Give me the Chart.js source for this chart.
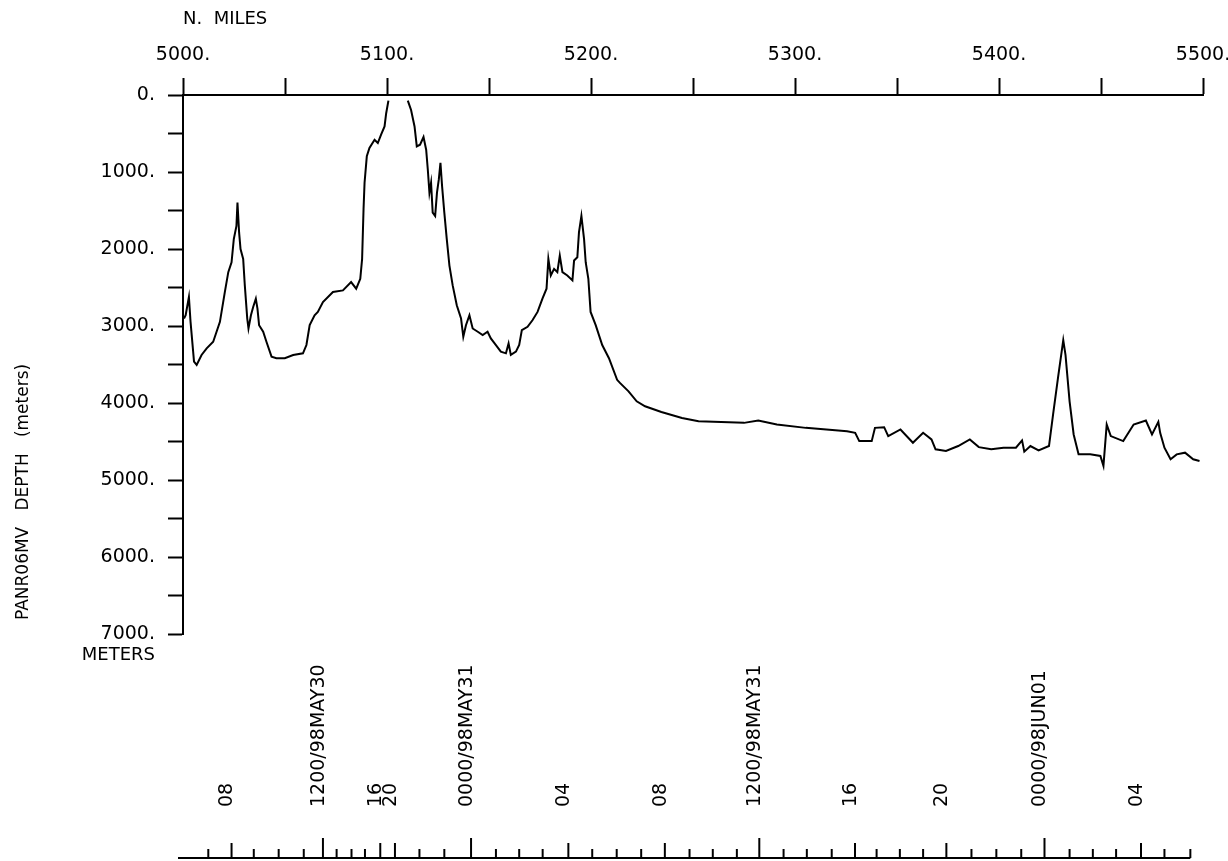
<!DOCTYPE html>
<html>
<head>
<meta charset="utf-8">
<script src="https://cdn.jsdelivr.net/npm/chart.js@4/dist/chart.umd.min.js"></script>
<style>
    body { margin: 0; background: #fff; }
    canvas { display: block; }
</style>
</head>
<body>
<canvas id="perfilChart" width="1228" height="861"></canvas>
<script>
// distance along track (nautical miles) and depth (meters)
const milhas = [
    5000.5, 5001.3, 5002.9, 5003.7, 5005.4, 5006.7, 5009.1, 5011.6, 5014.8, 5018.1,
    5020.5, 5022.2, 5023.8, 5024.9, 5026.2, 5026.7, 5027.5, 5028.2, 5029.5, 5030.3,
    5031.5, 5032.1, 5033.3, 5034.4, 5035.7, 5036.5, 5037.3, 5039.3, 5040.9, 5043.4,
    5045.8, 5049.9, 5054.0, 5058.8, 5060.5, 5062.1, 5064.5, 5066.1, 5068.6, 5073.5,
    5078.4, 5082.4, 5084.9, 5086.9, 5087.8, 5088.5, 5089.0, 5090.1, 5091.4, 5093.9,
    5095.5, 5097.1, 5098.8, 5099.6, 5100.7, 5105.0, 5110.2, 5111.8, 5113.5, 5114.6,
    5116.2, 5117.9, 5119.2, 5120.0, 5120.8, 5121.6, 5122.4, 5123.6, 5124.5, 5125.4,
    5126.2, 5127.0, 5128.1, 5129.3, 5130.6, 5132.2, 5134.2, 5136.3, 5137.4, 5138.7,
    5140.4, 5142.0, 5144.5, 5146.9, 5149.3, 5150.9, 5153.4, 5155.8, 5158.3, 5159.6,
    5160.7, 5163.2, 5164.8, 5166.1, 5168.9, 5171.3, 5173.8, 5176.2, 5178.2, 5179.1,
    5180.3, 5181.9, 5183.5, 5184.7, 5186.0, 5188.4, 5190.9, 5191.7, 5193.3, 5194.1,
    5195.3, 5196.6, 5197.4, 5198.7, 5199.8, 5202.3, 5205.5, 5208.8, 5212.8, 5214.3,
    5218.4, 5222.4, 5226.5, 5234.5, 5244.6, 5252.7, 5275.0, 5282.0, 5291.1, 5305.3,
    5315.4, 5325.5, 5329.5, 5331.5, 5337.6, 5339.2, 5343.7, 5345.7, 5351.7, 5357.8,
    5362.8, 5366.9, 5368.9, 5374.0, 5380.0, 5385.7, 5390.1, 5396.2, 5402.2, 5408.3,
    5411.3, 5412.4, 5415.4, 5419.4, 5424.5, 5426.5, 5428.9, 5431.5, 5432.6, 5434.6,
    5436.6, 5439.0, 5444.7, 5449.7, 5451.2, 5452.8, 5454.8, 5460.9, 5466.0, 5472.0,
    5475.0, 5478.1, 5479.0, 5481.1, 5484.1, 5487.1, 5491.2, 5495.2, 5498.3
];
const profundidade = [
    2903, 2860, 2624, 2946, 3462, 3505, 3376, 3290, 3204, 2946,
    2559, 2301, 2172, 1871, 1699, 1398, 1785, 2000, 2129, 2473,
    2903, 3032, 2860, 2753, 2645, 2774, 2989, 3075, 3204, 3398,
    3419, 3419, 3376, 3355, 3247, 2989, 2860, 2817, 2688, 2559,
    2538, 2430, 2516, 2387, 2129, 1484, 1140, 796, 688, 581,
    624, 516, 409, 237, 73, null, 73, 194, 409, 667,
    645, 546, 710, 968, 1269, 1140, 1527, 1570, 1269, 1097,
    882, 1183, 1527, 1871, 2215, 2473, 2731, 2903, 3140, 2989,
    2860, 3032, 3075, 3118, 3075, 3161, 3247, 3333, 3355, 3226,
    3376, 3333, 3247, 3054, 3011, 2925, 2817, 2645, 2516, 2129,
    2344, 2258, 2301, 2086, 2301, 2344, 2408, 2150, 2107, 1785,
    1570, 1871, 2172, 2387, 2817, 2989, 3247, 3419, 3699, 3742,
    3849, 3978, 4043, 4116, 4194, 4237, 4258, 4228, 4280, 4323,
    4344, 4366, 4387, 4495, 4495, 4323, 4314, 4430, 4344, 4516,
    4387, 4473, 4602, 4624, 4559, 4473, 4573, 4602, 4581, 4581,
    4486, 4632, 4559, 4615, 4559, 4151, 3677, 3183, 3376, 3978,
    4409, 4667, 4667, 4688, 4817, 4280, 4430, 4495, 4280, 4228,
    4409, 4245, 4387, 4581, 4731, 4667, 4645, 4731, 4753
];

// hour marks of the ship's clock, placed at the distance run at that hour
const horaMilhas = [
    5012.4, 5023.8, 5034.7, 5046.9, 5059.2, 5068.6, 5075.3, 5082.6, 5089.2, 5096.7,
    5103.9, 5115.9, 5128.1, 5141.2, 5153.4, 5164.8, 5176.3, 5188.9, 5200.6, 5212.6,
    5224.6, 5236.2, 5248.3, 5259.7, 5271.5, 5282.5, 5294.4, 5305.8, 5318.0, 5329.4,
    5340.0, 5351.4, 5362.8, 5374.2, 5386.5, 5398.7, 5410.9, 5422.3, 5434.6, 5446.0,
    5457.4, 5469.6, 5481.1, 5493.8
];
const horas = [
    7, 8, 9, 10, 11, 12, 13, 14, 15, 16,
    20, 21, 22, 0, 1, 2, 3, 4, 5, 6,
    7, 8, 9, 10, 11, 12, 13, 14, 15, 16,
    17, 18, 19, 20, 21, 22, 23, 0, 1, 2,
    3, 4, 5, 6
];
const horaRotulos = [
    '', '08', '', '', '', '1200/98MAY30', '', '', '', '16',
    '20', '', '', '0000/98MAY31', '', '', '', '04', '', '',
    '', '08', '', '', '', '1200/98MAY31', '', '', '', '16',
    '', '', '', '20', '', '', '', '0000/98JUN01', '', '',
    '', '04', '', ''
];

const FONTE = 'DejaVu Sans';
const TITULO_Y = 'PANR06MV   DEPTH   (meters)';

// bottom time axis, depth title and METERS note, drawn through the x and y scales
const eixoTempo = {
    id: 'eixoTempo',
    afterDraw(chart) {
        const ctx = chart.ctx;
        const x = chart.scales.x;
        const y = chart.scales.y;
        const base = chart.height - 3;

        ctx.save();
        ctx.strokeStyle = '#000';
        ctx.fillStyle = '#000';
        ctx.lineWidth = 2;

        ctx.beginPath();
        ctx.moveTo(x.left - 5, base);
        ctx.lineTo(x.getPixelForValue(horaMilhas[horaMilhas.length - 1]), base);
        ctx.stroke();

        ctx.font = '19px "' + FONTE + '"';
        horaMilhas.forEach((m, i) => {
            const px = x.getPixelForValue(m);
            const h = horas[i];
            const len = h % 12 === 0 ? 20 : (h % 4 === 0 ? 15 : 9);
            ctx.beginPath();
            ctx.moveTo(px, base);
            ctx.lineTo(px, base - len);
            ctx.stroke();

            if (horaRotulos[i]) {
                ctx.save();
                ctx.translate(px - 4, base - 51);
                ctx.rotate(-Math.PI / 2);
                ctx.textAlign = 'left';
                ctx.textBaseline = 'middle';
                ctx.fillText(horaRotulos[i], 0, 0);
                ctx.restore();
            }
        });

        // depth title, reading upward from near the 7000 m end
        ctx.save();
        ctx.font = '17px "' + FONTE + '"';
        ctx.translate(24, y.getPixelForValue(7000) - 14);
        ctx.rotate(-Math.PI / 2);
        ctx.textAlign = 'left';
        ctx.textBaseline = 'middle';
        ctx.fillText(TITULO_Y, 0, 0);
        ctx.restore();

        ctx.font = '18px "' + FONTE + '"';
        ctx.textAlign = 'right';
        ctx.textBaseline = 'middle';
        ctx.fillText('METERS', y.right - 28, y.getPixelForValue(7000) + 21);
        ctx.restore();
    }
};

function desenharPerfil() {
    const pontos = milhas.map((m, i) => ({ x: m, y: profundidade[i] }));

    new Chart(document.getElementById('perfilChart'), {
        type: 'line',
        data: {
            datasets: [{
                label: 'PANR06MV',
                data: pontos,
                borderColor: '#000',
                borderWidth: 2,
                pointRadius: 0,
                tension: 0,
                spanGaps: false
            }]
        },
        options: {
            responsive: false,
            animation: false,
            layout: { padding: { left: 0, top: 0, right: 25, bottom: 227 } },
            plugins: {
                legend: { display: false },
                tooltip: { enabled: false }
            },
            scales: {
                x: {
                    type: 'linear',
                    position: 'top',
                    min: 5000,
                    max: 5500,
                    afterFit(scale) {
                        scale.height = 95;
                        scale.paddingLeft = 0;
                        scale.paddingRight = 0;
                    },
                    border: { color: '#000', width: 2 },
                    grid: { drawOnChartArea: false, tickLength: 17, tickColor: '#000', tickWidth: 2 },
                    title: {
                        display: true,
                        text: 'N.  MILES',
                        align: 'start',
                        color: '#000',
                        font: { family: FONTE, size: 18 },
                        padding: { top: 9, bottom: 0 }
                    },
                    ticks: {
                        stepSize: 50,
                        autoSkip: false,
                        maxRotation: 0,
                        padding: 12,
                        color: '#000',
                        font: { family: FONTE, size: 19 },
                        callback: v => v % 100 === 0 ? v + '.' : ''
                    }
                },
                y: {
                    reverse: true,
                    min: 0,
                    max: 7000,
                    afterFit(scale) { scale.width = 183; },
                    border: { color: '#000', width: 2 },
                    grid: { drawOnChartArea: false, tickLength: 15, tickColor: '#000', tickWidth: 2 },
                    ticks: {
                        stepSize: 500,
                        autoSkip: false,
                        padding: 13,
                        color: '#000',
                        font: { family: FONTE, size: 19 },
                        callback: v => v % 1000 === 0 ? v + '.' : ''
                    }
                }
            }
        },
        plugins: [eixoTempo]
    });
}

document.addEventListener('DOMContentLoaded', desenharPerfil);
</script>
</body>
</html>
